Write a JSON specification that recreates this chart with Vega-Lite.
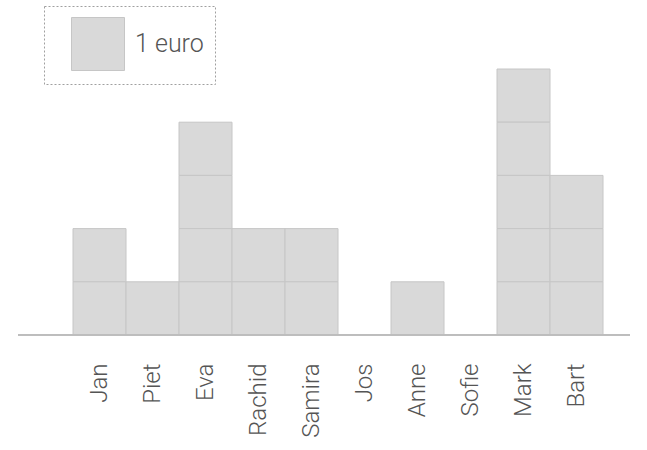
{
  "$schema": "https://vega.github.io/schema/vega-lite/v6.json",
  "autosize": "none",
  "width": 612,
  "height": 266,
  "padding": {"left": 18, "top": 69, "right": 17, "bottom": 115},
  "background": "white",
  "config": {
    "view": {"stroke": null},
    "legend": {"strokeDash": [2, 2], "strokeColor": "#a0a0a0", "fillColor": "white", "padding": 11}
  },
  "data": {"values": [
    {"name": "Jan", "k": 1}, {"name": "Jan", "k": 2},
    {"name": "Piet", "k": 1},
    {"name": "Eva", "k": 1}, {"name": "Eva", "k": 2}, {"name": "Eva", "k": 3}, {"name": "Eva", "k": 4},
    {"name": "Rachid", "k": 1}, {"name": "Rachid", "k": 2},
    {"name": "Samira", "k": 1}, {"name": "Samira", "k": 2},
    {"name": "Anne", "k": 1},
    {"name": "Mark", "k": 1}, {"name": "Mark", "k": 2}, {"name": "Mark", "k": 3}, {"name": "Mark", "k": 4}, {"name": "Mark", "k": 5},
    {"name": "Bart", "k": 1}, {"name": "Bart", "k": 2}, {"name": "Bart", "k": 3}
  ]},
  "layer": [
    {
      "mark": {"type": "bar", "stroke": "#c6c6c6", "strokeWidth": 1},
      "encoding": {
        "x": {
          "field": "name", "type": "nominal", "title": null,
          "scale": {"type": "band", "domain": ["Jan", "Piet", "Eva", "Rachid", "Samira", "Jos", "Anne", "Sofie", "Mark", "Bart"], "range": [55, 585], "paddingInner": 0, "paddingOuter": 0},
          "axis": {"domain": false, "ticks": false, "labelAngle": 270, "labelAlign": "right", "labelBaseline": "middle", "labelPadding": 28, "labelFont": "Roboto", "labelFontWeight": 300, "labelFontSize": 24, "labelColor": "#555555"}
        },
        "y": {"aggregate": "count", "type": "quantitative", "stack": "zero", "scale": {"domain": [0, 5], "nice": false}, "axis": null},
        "detail": {"field": "k", "type": "ordinal"},
        "color": {
          "datum": "1 euro",
          "scale": {"range": ["#d9d9d9"]},
          "legend": {
            "title": null, "orient": "none", "legendX": 26, "legendY": -63,
            "symbolType": "square", "symbolSize": 2809, "symbolStrokeColor": "#c6c6c6", "symbolStrokeWidth": 1, "symbolOpacity": 1,
            "symbolOffset": 16,
            "labelFont": "Roboto", "labelFontWeight": 300, "labelFontSize": 25, "labelColor": "#555555", "labelOffset": 10
          }
        }
      }
    },
    {
      "mark": {"type": "rule", "color": "#bdbdbd", "strokeWidth": 1},
      "encoding": {"y": {"datum": 0}}
    }
  ]
}
